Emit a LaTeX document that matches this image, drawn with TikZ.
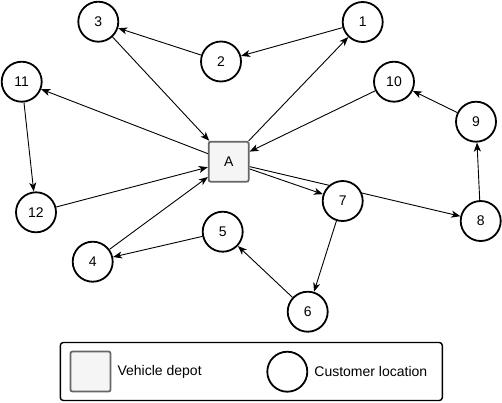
\documentclass[tikz,border=0pt]{standalone}
\usepackage{fontspec}
\setmainfont{Liberation Sans}
\usetikzlibrary{positioning,arrows.meta,backgrounds}
\definecolor{depotfill}{HTML}{F5F5F5}
\definecolor{depotline}{HTML}{666666}

\begin{document}
\begin{tikzpicture}[x=1pt,y=-1pt,
    every node/.style={font=\fontsize{14}{16}\selectfont},
    customer/.style={circle,draw,line width=1.8pt,fill=white,minimum size=40pt,inner sep=0pt},
    depot/.style={rectangle,draw=depotline,fill=depotfill,line width=1.8pt,rounded corners=2pt,minimum size=40pt,inner sep=0pt},
    route/.style={line width=0.9pt,-{Stealth[length=9pt,width=7pt,inset=2.5pt]}}]
    \useasboundingbox (0,0) rectangle (502,402);
    \node[depot] (nA) at (228.7,161.7) {A};
    \foreach \n/\x/\y in {1/362.7/22,2/221/61.5,3/98.3/21.7,4/92.7/261.7,5/222.7/231.7,6/307.7/311.7,
                          7/342.7/201,8/480.7/221,9/476/121.7,10/394/81.7,11/21.7/81.7,12/36/212.3}
        \node[customer] (n\n) at (\x,\y) {\n};
    \begin{scope}[on background layer]
        \foreach \from/\to in {1/2,2/3,3/A,A/1,A/11,11/12,12/A,4/A,5/4,6/5,7/6,A/7,A/8,8/9,9/10,10/A}
            \draw[route] (n\from) -- (n\to);
    \end{scope}
    % legend
    \node[draw,line width=1.4pt,rounded corners=3pt,minimum width=382pt,minimum height=58pt] (legend) at (251.3,371.5) {};
    \node[depot] (keydepot) at (90.5,371.5) {};
    \node[right=6pt of keydepot,inner sep=0pt] (keydepottext) {Vehicle depot};
    \node[customer] (keycustomer) at (287.3,371.7) {};
    \node[right=6pt of keycustomer,inner sep=0pt] (keycustomertext) {Customer location};
\end{tikzpicture}
\end{document}
